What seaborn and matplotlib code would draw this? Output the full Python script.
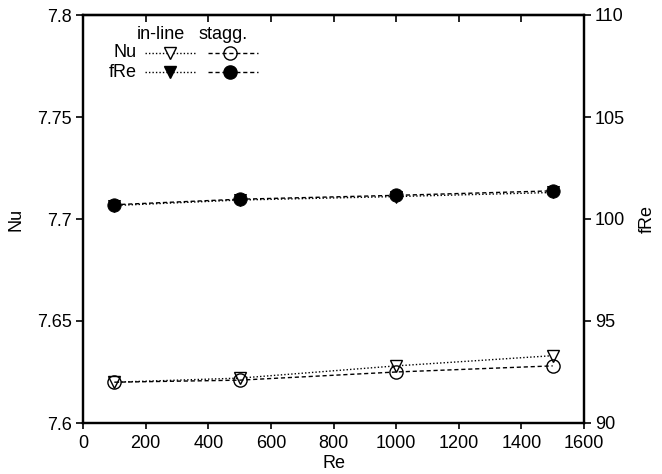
import matplotlib
matplotlib.use("Agg")
import matplotlib.pyplot as plt
import seaborn as sns
import pandas as pd

re_vals = [100, 500, 1000, 1500]
nu_inline = [7.620, 7.622, 7.628, 7.633]
nu_stagg = [7.620, 7.621, 7.625, 7.628]
fre_inline = [100.66, 100.93, 101.10, 101.30]
fre_stagg = [100.70, 100.97, 101.16, 101.38]

x_ticks = [0, 200, 400, 600, 800, 1000, 1200, 1400, 1600]
nu_ticks = [7.6, 7.65, 7.7, 7.75, 7.8]
nu_tick_labels = ["7.6", "7.65", "7.7", "7.75", "7.8"]
fre_ticks = [90, 95, 100, 105, 110]

sns.set_style("ticks")
plt.rcParams['font.family'] = ['Liberation Sans', 'DejaVu Sans']
fs = 13
plt.rcParams['font.size'] = fs
plt.rcParams['text.color'] = 'black'
plt.rcParams['axes.labelcolor'] = 'black'

df = pd.DataFrame({
    "Re": re_vals,
    "nu_inline": nu_inline,
    "nu_stagg": nu_stagg,
    "fre_inline": fre_inline,
    "fre_stagg": fre_stagg,
})

fig = plt.figure(figsize=(6.62, 4.74), dpi=100)
ax = fig.add_axes([83/662, 51/474, 501/662, 408/474])
ax2 = ax.twinx()

lw = 1.0
tri_ms = 8.5
circ_ms = 9.5
sns.lineplot(data=df, x="Re", y="nu_inline", ax=ax, color="black", lw=lw,
             linestyle=(0, (1, 1.5)), marker="v", markersize=tri_ms,
             markerfacecolor="white", markeredgecolor="black", markeredgewidth=1.0)
sns.lineplot(data=df, x="Re", y="nu_stagg", ax=ax, color="black", lw=lw,
             linestyle=(0, (3, 2)), marker="o", markersize=circ_ms,
             markerfacecolor="none", markeredgecolor="black", markeredgewidth=1.0)
sns.lineplot(data=df, x="Re", y="fre_inline", ax=ax2, color="black", lw=lw,
             linestyle=(0, (1, 1.5)), marker="v", markersize=tri_ms,
             markerfacecolor="black", markeredgecolor="black")
sns.lineplot(data=df, x="Re", y="fre_stagg", ax=ax2, color="black", lw=lw,
             linestyle=(0, (3, 2)), marker="o", markersize=circ_ms,
             markerfacecolor="black", markeredgecolor="black")

ax.set_xlim(0, 1600)
ax.set_ylim(7.6, 7.8)
ax2.set_ylim(90, 110)
ax.set_xticks(x_ticks)
ax.set_xticklabels([str(t) for t in x_ticks])
ax.set_yticks(nu_ticks)
ax.set_yticklabels(nu_tick_labels)
ax2.set_yticks(fre_ticks)
ax2.set_yticklabels([str(t) for t in fre_ticks])

ax.set_xlabel("Re", fontsize=fs, labelpad=2, color="black")
ax.set_ylabel("Nu", fontsize=fs, labelpad=9, color="black")
ax2.set_ylabel("fRe", fontsize=fs, labelpad=10, color="black")

for a in (ax, ax2):
    for s in a.spines.values():
        s.set_linewidth(1.6)
        s.set_color("black")
ax.tick_params(axis="x", direction="out", length=4, width=1.2, labelsize=fs, pad=5, colors="black", bottom=True)
ax.tick_params(axis="y", direction="out", length=5, width=1.2, labelsize=fs, pad=3, colors="black", left=True)
ax2.tick_params(axis="y", direction="out", length=5, width=1.2, labelsize=fs, pad=3, colors="black", right=True)
top = ax.secondary_xaxis("top")
top.set_xticks(x_ticks)
top.tick_params(axis="x", direction="in", length=5, width=1.2, top=True, labeltop=False, colors="black")
top.spines["top"].set_linewidth(1.6)

# manual legend
tr = ax.transAxes
ax.text(0.156, 0.951, "in-line", transform=tr, ha="center", va="center", fontsize=fs)
ax.text(0.279, 0.951, "stagg.", transform=tr, ha="center", va="center", fontsize=fs)
ax.text(0.108, 0.907, "Nu", transform=tr, ha="right", va="center", fontsize=fs)
ax.text(0.108, 0.860, "fRe", transform=tr, ha="right", va="center", fontsize=fs)
for yv, fc in [(0.907, "white"), (0.860, "black")]:
    ax.plot([0.124, 0.224], [yv, yv], transform=tr, color="black", lw=lw, linestyle=(0, (1, 1.5)))
    ax.plot([0.174], [yv], transform=tr, marker="v", markersize=tri_ms, markerfacecolor=fc,
            markeredgecolor="black", linestyle="none")
    ax.plot([0.250, 0.349], [yv, yv], transform=tr, color="black", lw=lw, linestyle=(0, (3, 2)))
    ax.plot([0.293], [yv], transform=tr, marker="o", markersize=circ_ms,
            markerfacecolor=("none" if fc == "white" else "black"), markeredgecolor="black",
            linestyle="none")

fig.savefig("out.png", dpi=100)
